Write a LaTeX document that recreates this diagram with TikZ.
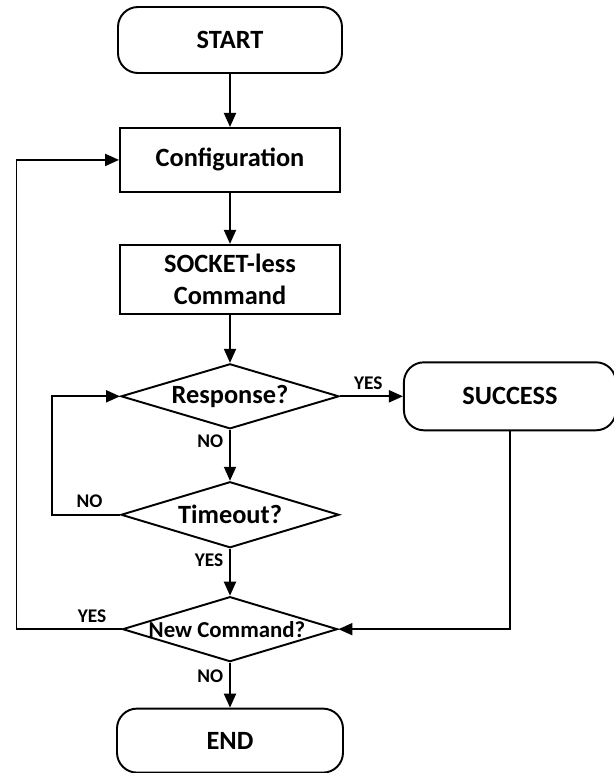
\documentclass[tikz,border=0pt]{standalone}
\usepackage{fontspec}
\setmainfont{Carlito}
\usetikzlibrary{positioning,shapes.geometric,arrows.meta}

\tikzset{
    terminal/.style={draw, rounded corners=0.4cm, minimum width=4.48cm, minimum height=1.32cm},
    process/.style={draw, minimum width=4.4cm, minimum height=1.28cm, align=center},
    decision/.style={draw, diamond, aspect=3.3, inner sep=0pt, minimum width=4.36cm, minimum height=1.3cm},
    flow/.style={-{Triangle[length=0.28cm, width=0.24cm]}},
    tag/.style={font=\fontsize{11}{12}\selectfont\bfseries}
}

\begin{document}
\begin{tikzpicture}[
    node distance=1.02cm,
    every node/.style={font=\fontsize{15}{18}\selectfont\bfseries},
    line width=1.1pt
]
    \useasboundingbox (0,0) rectangle (12.28,-15.46);
    \node[terminal] (start) at (4.6,-0.8) {START};
    \node[process, below=1.06cm of start] (config) {Configuration};
    \node[process, below=of config, minimum height=1.38cm] (socket) {SOCKET-less\\Command};
    \node[decision, below=0.96cm of socket, label=center:{Response?}] (resp) {};
    \node[terminal, right=1.26cm of resp, minimum width=4.24cm, minimum height=1.36cm] (succ) {SUCCESS};
    \node[decision, below=of resp, minimum height=1.32cm, label=center:{Timeout?}] (timeout) {};
    \node[decision, below=0.94cm of timeout, minimum width=4.3cm,
          label={[font=\fontsize{13}{15}\selectfont\bfseries, xshift=-0.06cm]center:{New Command?}}] (newcmd) {};
    \node[terminal, below=0.9cm of newcmd, minimum width=4.52cm, minimum height=1.28cm] (end) {END};

    \draw[flow] (start) -- (config);
    \draw[flow] (config) -- (socket);
    \draw[flow] (socket) -- (resp);
    \draw[flow] (resp) -- node[tag, above, pos=0.45] {YES} (succ);
    \draw[flow] (resp) -- node[tag, left, pos=0.22] {NO} (timeout);
    \draw[flow] (timeout.west) -- node[tag, above, pos=0.45] {NO} ([xshift=-1.36cm]timeout.west) |- (resp.west);
    \draw[flow] (timeout) -- node[tag, left, pos=0.25] {YES} (newcmd);
    \draw[flow] (succ.south) |- (newcmd.east);
    \draw[flow] (newcmd.west) -- node[tag, above, pos=0.28] {YES} ([xshift=-2.1cm]newcmd.west) |- (config.west);
    \draw[flow] (newcmd) -- node[tag, left, pos=0.3] {NO} (end);
\end{tikzpicture}
\end{document}
